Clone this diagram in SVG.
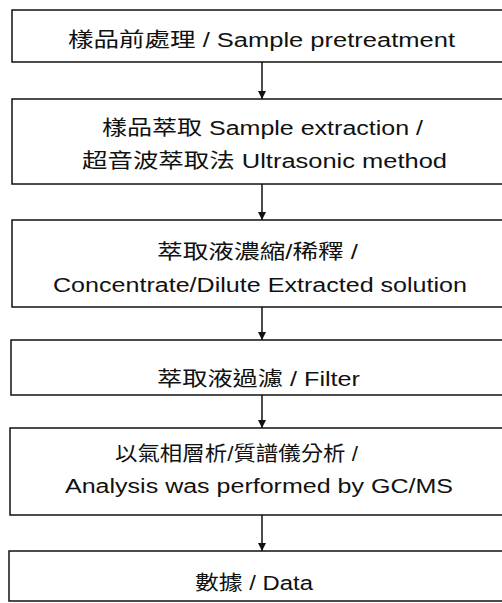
<svg xmlns="http://www.w3.org/2000/svg" width="502" height="603" viewBox="0 0 502 603">
<style>
.box{fill:#fff;stroke:#111;stroke-width:1.5}
.t{font-family:'Liberation Sans','Noto Sans CJK TC',sans-serif;font-size:20px;fill:#111}
.c{stroke:#111;stroke-width:1.5;fill:none}
</style>
<defs>
<marker id="ah" viewBox="0 0 10 10" refX="10" refY="5" markerWidth="8" markerHeight="8" markerUnits="userSpaceOnUse" orient="auto">
<path d="M0,0 L10,5 L0,10 z" fill="#111"/>
</marker>
</defs>
<rect width="502" height="603" fill="#fff"/>
<g id="connectors">
<line class="c" x1="262" y1="62" x2="262" y2="99" marker-end="url(#ah)"/>
<line class="c" x1="262" y1="184" x2="262" y2="220" marker-end="url(#ah)"/>
<line class="c" x1="262" y1="307" x2="262" y2="340" marker-end="url(#ah)"/>
<line class="c" x1="262" y1="395" x2="262" y2="428" marker-end="url(#ah)"/>
<line class="c" x1="262" y1="515" x2="262" y2="551" marker-end="url(#ah)"/>
</g>
<g id="n1">
<rect class="box" x="12" y="10" width="500" height="52"/>
<text class="t" x="68" y="47" textLength="387" lengthAdjust="spacingAndGlyphs">樣品前處理 / Sample pretreatment</text>
</g>
<g id="n2">
<rect class="box" x="12" y="99" width="500" height="85"/>
<text class="t" x="102" y="135" textLength="321" lengthAdjust="spacingAndGlyphs">樣品萃取 Sample extraction /</text>
<text class="t" x="82" y="168" textLength="365" lengthAdjust="spacingAndGlyphs">超音波萃取法 Ultrasonic method</text>
</g>
<g id="n3">
<rect class="box" x="12" y="220" width="500" height="87"/>
<text class="t" x="157" y="259" textLength="201" lengthAdjust="spacingAndGlyphs">萃取液濃縮/稀釋 /</text>
<text class="t" x="53" y="292" textLength="414" lengthAdjust="spacingAndGlyphs">Concentrate/Dilute Extracted solution</text>
</g>
<g id="n4">
<rect class="box" x="11" y="340" width="500" height="55"/>
<text class="t" x="157" y="386" textLength="203" lengthAdjust="spacingAndGlyphs">萃取液過濾 / Filter</text>
</g>
<g id="n5">
<rect class="box" x="10" y="428" width="500" height="87"/>
<text class="t" x="115" y="461" textLength="243" lengthAdjust="spacingAndGlyphs">以氣相層析/質譜儀分析 /</text>
<text class="t" x="65" y="493" textLength="388" lengthAdjust="spacingAndGlyphs">Analysis was performed by GC/MS</text>
</g>
<g id="n6">
<rect class="box" x="9" y="551" width="500" height="50"/>
<text class="t" x="195" y="590" textLength="118" lengthAdjust="spacingAndGlyphs">數據 / Data</text>
</g>
</svg>
